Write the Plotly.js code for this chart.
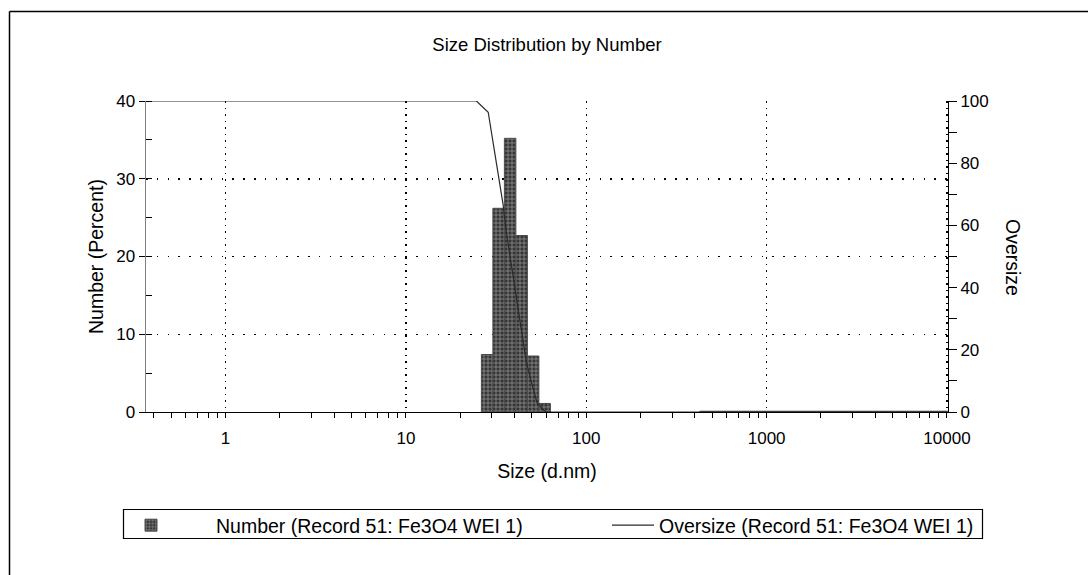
<!DOCTYPE html>
<html>
<head>
<meta charset="utf-8">
<script src="https://cdn.plot.ly/plotly-3.0.1.min.js"></script>
<style>
  html, body { margin: 0; padding: 0; background: #ffffff; }
  #chart { width: 1088px; height: 575px; }
</style>
</head>
<body>
<div id="chart"></div>
<script>
// Size classes (d.nm) and number distribution (%)
const sizeBins = [28.21, 32.67, 37.84, 43.82, 50.75, 58.77,
  458.7, 531.2, 615.1, 712.4, 825.0, 955.4, 1106, 1281, 1484, 1718, 1990,
  2305, 2669, 3091, 3580, 4145, 4801, 5560, 6439, 7456, 8635, 10000];
const numberPct = [7.4, 26.2, 35.2, 22.7, 7.2, 1.1,
  0.1, 0.1, 0.1, 0.1, 0.1, 0.1, 0.1, 0.1, 0.1, 0.1, 0.1,
  0.1, 0.1, 0.1, 0.1, 0.1, 0.1, 0.1, 0.1, 0.1, 0.1, 0.1];

// Cumulative oversize curve (%)
const oversizeSize = [0.3, 24.6, 28.6, 34.6, 36.0, 40.5, 46.5, 50.1, 53.4, 59.4, 10000];
const oversizePct  = [100, 100, 96.4, 66.6, 58.0, 39.2, 16.1, 8.7, 2.9, 0, 0];

// Axis labels
const sizeTicks = [1, 10, 100, 1000, 10000];
const sizeTickText = ['1', '10', '100', '1000', '10000'];

const seriesNames = ['Number (Record 51: Fe3O4 WEI 1)', 'Oversize (Record 51: Fe3O4 WEI 1)'];

// The size axis is linear in log10(size) so each class bar has an equal width.
const lg = v => Math.log10(v);
const binWidth = lg(sizeBins[1] / sizeBins[0]);
const xRange = [-0.441, 4.0056];

const minorTicks = [];
for (let d = -1; d < 4; d++) {
  for (let m = 2; m <= 9; m++) {
    const v = m * Math.pow(10, d);
    if (lg(v) > xRange[0]) minorTicks.push(lg(v));
  }
}

const FONT = 'Liberation Sans, Arial, sans-serif';
const TICK_FS = 17;
const LABEL_FS = 19.5;

const traces = [
  {
    type: 'bar',
    name: seriesNames[0],
    x: sizeBins.map(lg),
    y: numberPct,
    width: sizeBins.map(() => binWidth),
    marker: {
      color: '#3a3a3a',
      line: { color: '#4a4a4a', width: 1 },
      pattern: { shape: '+', fgcolor: '#a0a0a0', bgcolor: '#353535', size: 4, solidity: 0.3 }
    },
    xaxis: 'x', yaxis: 'y',
    legend: 'legend',
    hoverinfo: 'skip'
  },
  {
    type: 'scatter',
    mode: 'lines',
    name: seriesNames[1],
    x: oversizeSize.map(lg),
    y: oversizePct,
    line: { color: '#2a2a2a', width: 1.2 },
    xaxis: 'x', yaxis: 'y2',
    legend: 'legend2',
    hoverinfo: 'skip'
  }
];

// pixel helpers for placing layout furniture around the plot area
const L = 146, R = 948, T = 101, B = 412;
const px = x => (x - L) / (R - L);
const py = y => (B - y) / (B - T);

const layout = {
  width: 1088,
  height: 575,
  margin: { l: L, r: 1088 - R, t: T, b: 575 - B, pad: 0 },
  paper_bgcolor: '#ffffff',
  plot_bgcolor: '#ffffff',
  font: { family: FONT, size: TICK_FS, color: '#000000' },
  bargap: 0,
  title: {
    text: 'Size Distribution by Number',
    font: { family: FONT, size: 18.5, color: '#000000' },
    x: 0.5, xref: 'paper', xanchor: 'center',
    y: 1 - 45 / 575, yref: 'container', yanchor: 'middle'
  },
  xaxis: {
    range: xRange,
    tickvals: sizeTicks.map(lg),
    ticktext: sizeTickText,
    ticks: 'outside', ticklen: 5, tickwidth: 1, tickcolor: '#000000',
    minor: { tickvals: minorTicks, ticks: 'outside', ticklen: 5, tickwidth: 1, tickcolor: '#000000', showgrid: false },
    ticklabelstandoff: 6,
    showline: true, linecolor: '#000000', linewidth: 1,
    showgrid: true, gridcolor: '#000000', gridwidth: 1.5, griddash: '1.5px,5px',
    zeroline: false,
    tickfont: { size: TICK_FS },
    title: { text: 'Size (d.nm)', font: { size: LABEL_FS }, standoff: 16 }
  },
  xaxis2: {
    overlaying: 'x', matches: 'x', side: 'bottom',
    range: xRange,
    tickvals: sizeTicks.map(lg),
    ticks: 'inside', ticklen: 4, tickwidth: 1, tickcolor: '#000000',
    minor: { tickvals: minorTicks, ticks: 'inside', ticklen: 4, tickwidth: 1, tickcolor: '#000000', showgrid: false },
    showticklabels: false, showgrid: false, showline: false, zeroline: false
  },
  yaxis: {
    range: [0, 40],
    dtick: 10,
    ticks: 'outside', ticklen: 6, tickwidth: 1, tickcolor: '#000000',
    minor: { dtick: 5, ticks: 'inside', ticklen: 6, tickwidth: 1, tickcolor: '#000000', showgrid: false },
    showline: true, linecolor: '#808080', linewidth: 1.5,
    showgrid: true, gridcolor: '#000000', gridwidth: 1.5, griddash: '1.5px,9.3px',
    zeroline: false,
    tickfont: { size: TICK_FS },
    title: { text: 'Number (Percent)', font: { size: LABEL_FS }, standoff: 7 }
  },
  yaxis2: {
    overlaying: 'y', side: 'right',
    range: [0, 100],
    dtick: 20,
    ticks: 'outside', ticklen: 8, tickwidth: 1, tickcolor: '#000000',
    minor: { dtick: 10, ticks: 'outside', ticklen: 8, tickwidth: 1, tickcolor: '#000000', showgrid: false },
    showline: true, linecolor: '#000000', linewidth: 1,
    showgrid: false, zeroline: false,
    tickfont: { size: TICK_FS }
  },
  showlegend: true,
  legend: {
    orientation: 'h',
    x: px(86), xanchor: 'left', xref: 'paper',
    y: py(506), yanchor: 'top', yref: 'paper',
    bgcolor: 'rgba(0,0,0,0)', borderwidth: 0,
    font: { family: FONT, size: LABEL_FS, color: '#000000' },
    itemwidth: 120
  },
  legend2: {
    orientation: 'h',
    x: px(607), xanchor: 'left', xref: 'paper',
    y: py(506), yanchor: 'top', yref: 'paper',
    bgcolor: 'rgba(0,0,0,0)', borderwidth: 0,
    font: { family: FONT, size: LABEL_FS, color: '#000000' },
    itemwidth: 42
  },
  annotations: [
    {
      text: 'Oversize',
      xref: 'paper', yref: 'paper',
      x: px(1013), y: py(258),
      xanchor: 'center', yanchor: 'middle',
      textangle: 90,
      showarrow: false,
      font: { family: FONT, size: LABEL_FS, color: '#000000' }
    }
  ],
  shapes: [
    // frame lines along the top and left of the chart
    { type: 'line', xref: 'paper', yref: 'paper',
      x0: px(9.5), x1: px(1090), y0: py(11.5), y1: py(11.5),
      line: { color: '#000000', width: 1.5 } },
    { type: 'line', xref: 'paper', yref: 'paper',
      x0: px(9.5), x1: px(9.5), y0: py(11.5), y1: py(600),
      line: { color: '#000000', width: 1.5 } },
    // legend box
    { type: 'rect', xref: 'paper', yref: 'paper',
      x0: px(123.5), x1: px(982.5), y0: py(538.5), y1: py(509.5),
      line: { color: '#000000', width: 1.2 }, fillcolor: 'rgba(0,0,0,0)' }
  ]
};

Plotly.newPlot('chart', traces, layout, { staticPlot: true, displayModeBar: false });
</script>
</body>
</html>
